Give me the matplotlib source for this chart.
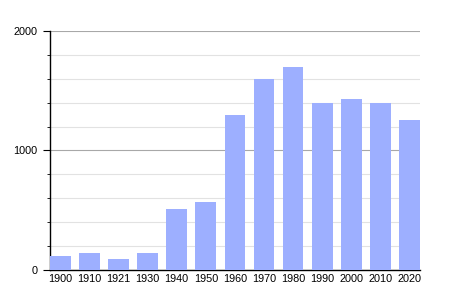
import matplotlib.pyplot as plt
from matplotlib.ticker import MultipleLocator

plt.rcParams['font.family'] = ['Liberation Sans', 'DejaVu Sans']

years = ['1900', '1910', '1921', '1930', '1940', '1950', '1960',
         '1970', '1980', '1990', '2000', '2010', '2020']
population = [120, 145, 92, 145, 510, 571, 1297, 1598, 1699, 1400, 1431, 1400, 1255]

fig = plt.figure(figsize=(4.5, 3), dpi=100)
ax = fig.add_axes([0.111, 0.1, 0.822, 0.797])

x = range(len(years))
w = 0.71
ax.bar(x, population, width=w, color='#9dafff', zorder=3)

ax.set_xlim(-w / 2, len(years) - 1 + w / 2)
ax.set_ylim(0, 2000)
ax.yaxis.set_major_locator(MultipleLocator(1000))
ax.yaxis.set_minor_locator(MultipleLocator(200))
ax.grid(axis='y', which='major', color='#a8a8a8', lw=0.8, zorder=0)
ax.grid(axis='y', which='minor', color='#e2e2e2', lw=0.8, zorder=0)

ax.set_xticks(list(x))
ax.set_xticklabels(years, fontsize=7.8)
ax.tick_params(axis='x', length=0, pad=3)
ax.tick_params(axis='y', which='major', length=5, labelsize=7.8, pad=4)
ax.tick_params(axis='y', which='minor', length=2)

for s in ['top', 'right']:
    ax.spines[s].set_visible(False)
ax.spines['left'].set_linewidth(1)
ax.spines['bottom'].set_linewidth(1)

fig.savefig('out.png', dpi=100)
